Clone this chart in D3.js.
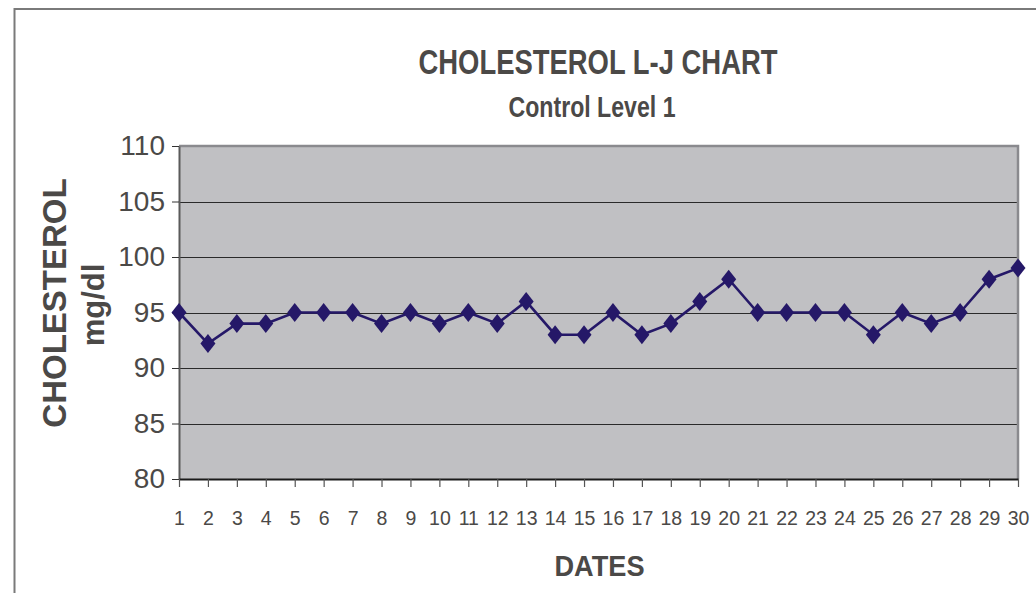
<!DOCTYPE html>
<html>
<head>
<meta charset="utf-8">
<script src="https://cdn.jsdelivr.net/npm/d3@7"></script>
<style>
  html, body { margin: 0; padding: 0; background: #fff; }
  svg { display: block; }
</style>
</head>
<body>
<svg id="chart" width="1036" height="593"></svg>
<script>
// ---- data ----
const dates = [1,2,3,4,5,6,7,8,9,10,11,12,13,14,15,16,17,18,19,20,21,22,23,24,25,26,27,28,29,30];
const cholesterol = [95,92.2,94,94,95,95,95,94,95,94,95,94,96,93,93,95,93,94,96,98,95,95,95,95,93,95,94,95,98,99];
const yTicks = [80,85,90,95,100,105,110];
const gridValues = [85,90,95,100,105];
const titleText = "CHOLESTEROL L-J CHART";
const subtitleText = "Control Level 1";
const yTitle = "CHOLESTEROL";
const yUnit = "mg/dl";
const xTitle = "DATES";

// ---- layout ----
const W = 1036, H = 593;
const plot = { left: 179, right: 1018, top: 146, bottom: 479 };
const textColor = "#4b4947";
const lineColor = "#251868";

const svg = d3.select("#chart");

// outer frame (top and left edges visible)
svg.append("path")
  .attr("d", `M14.5,${H} L14.5,9 L${W},9`)
  .attr("fill", "none").attr("stroke", "#7a7a7a").attr("stroke-width", 2);

const x = d3.scalePoint().domain(dates).range([plot.left, plot.right]).padding(0);
const y = d3.scaleLinear().domain([80, 110]).range([plot.bottom, plot.top]);

// plot background
svg.append("rect")
  .attr("x", plot.left).attr("y", plot.top)
  .attr("width", plot.right - plot.left).attr("height", plot.bottom - plot.top)
  .attr("fill", "#c0c0c3");

// gridlines
svg.append("g")
  .selectAll("line").data(gridValues).join("line")
  .attr("x1", plot.left).attr("x2", plot.right)
  .attr("y1", d => Math.round(y(d)) + 0.5).attr("y2", d => Math.round(y(d)) + 0.5)
  .attr("stroke", "#2a2a2a").attr("stroke-width", 1);

// top & right plot border
svg.append("path")
  .attr("d", `M${plot.left},${plot.top} L${plot.right},${plot.top} L${plot.right},${plot.bottom}`)
  .attr("fill", "none").attr("stroke", "#8a8a8e").attr("stroke-width", 2.5);

// y axis
const yAxis = svg.append("g")
  .attr("transform", `translate(${plot.left},0)`)
  .call(d3.axisLeft(y).tickValues(yTicks).tickSize(7).tickPadding(7).tickSizeOuter(0));
yAxis.select(".domain").attr("stroke", "#5a5a5a").attr("stroke-width", 2);
yAxis.selectAll(".tick line").attr("stroke", "#333").attr("stroke-width", 1);
yAxis.selectAll(".tick text")
  .attr("fill", textColor)
  .attr("font-family", "'Liberation Sans', Arial, sans-serif")
  .attr("font-size", 28);

// x axis
const xAxis = svg.append("g")
  .attr("transform", `translate(0,${plot.bottom})`)
  .call(d3.axisBottom(x).tickSize(8).tickPadding(24).tickSizeOuter(0));
xAxis.select(".domain").attr("stroke", "#1a1a1a").attr("stroke-width", 2);
xAxis.selectAll(".tick line").attr("stroke", "#555").attr("stroke-width", 1.2);
xAxis.selectAll(".tick text")
  .attr("fill", textColor)
  .attr("font-family", "'Liberation Sans', Arial, sans-serif")
  .attr("font-size", 19.5);

// series line
const line = d3.line().x((d, i) => x(dates[i])).y(d => y(d));
svg.append("path")
  .datum(cholesterol)
  .attr("d", line)
  .attr("fill", "none").attr("stroke", lineColor).attr("stroke-width", 2.6);

// diamond markers
svg.append("g")
  .selectAll("path").data(cholesterol).join("path")
  .attr("transform", (d, i) => `translate(${x(dates[i])},${y(d)})`)
  .attr("d", "M0,-9.5 L7.5,0 L0,9.5 L-7.5,0Z")
  .attr("fill", lineColor);

// titles
const narrow = "'Liberation Sans Narrow', 'Arial Narrow', 'Liberation Sans', Arial, sans-serif";
svg.append("text")
  .attr("x", 598).attr("y", 74)
  .attr("text-anchor", "middle")
  .attr("font-family", narrow).attr("font-weight", "bold").attr("font-size", 35)
  .attr("textLength", 359).attr("lengthAdjust", "spacingAndGlyphs")
  .attr("fill", textColor)
  .text(titleText);

svg.append("text")
  .attr("x", 592).attr("y", 117)
  .attr("text-anchor", "middle")
  .attr("font-family", narrow).attr("font-weight", "bold").attr("font-size", 29)
  .attr("textLength", 167).attr("lengthAdjust", "spacingAndGlyphs")
  .attr("fill", textColor)
  .text(subtitleText);

svg.append("text")
  .attr("x", 599.5).attr("y", 576)
  .attr("text-anchor", "middle")
  .attr("font-family", narrow).attr("font-weight", "bold").attr("font-size", 30)
  .attr("textLength", 90).attr("lengthAdjust", "spacingAndGlyphs")
  .attr("fill", textColor)
  .text(xTitle);

// y axis titles
svg.append("text")
  .attr("transform", "translate(66,303) rotate(-90)")
  .attr("text-anchor", "middle")
  .attr("font-family", "'Liberation Sans', Arial, sans-serif").attr("font-weight", "bold").attr("font-size", 33)
  .attr("fill", textColor)
  .text(yTitle);

svg.append("text")
  .attr("transform", "translate(104,305) rotate(-90)")
  .attr("text-anchor", "middle")
  .attr("font-family", "'Liberation Sans', Arial, sans-serif").attr("font-weight", "bold").attr("font-size", 31)
  .attr("fill", textColor)
  .text(yUnit);
</script>
</body>
</html>
